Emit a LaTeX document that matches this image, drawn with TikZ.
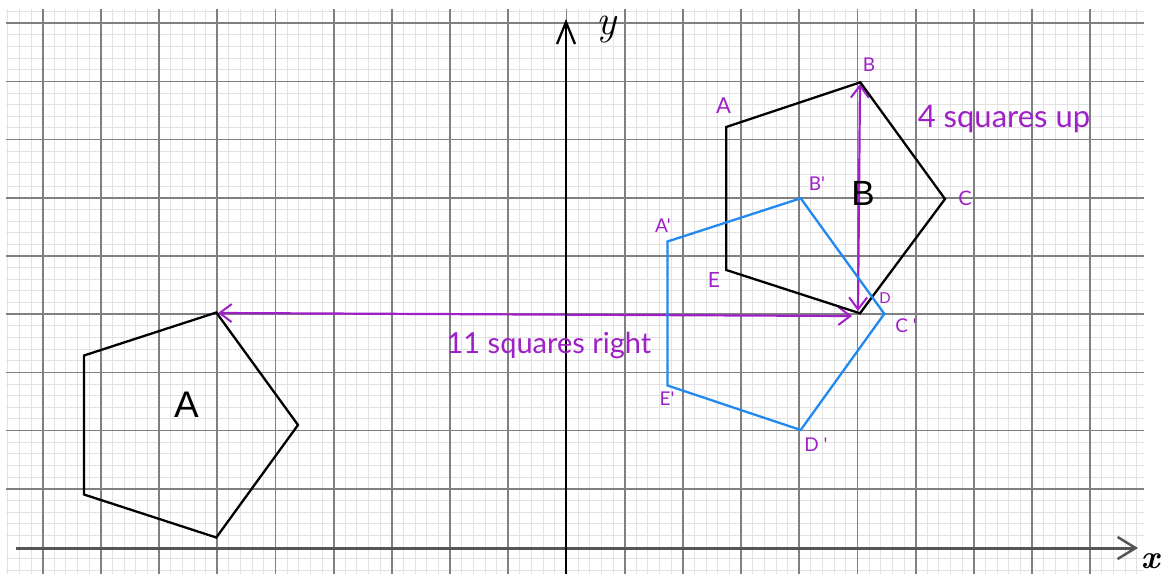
\documentclass[tikz,border=0pt]{standalone}
\usepackage{fontspec}
\setmainfont{Liberation Sans}
\newfontfamily\hand{Lato}
\newfontfamily\lmr{Latin Modern Roman}
\usetikzlibrary{arrows.meta}
\definecolor{minorc}{RGB}{226,226,226}
\definecolor{majorc}{RGB}{128,128,128}
\definecolor{axisc}{RGB}{85,85,85}
\definecolor{purp}{RGB}{160,32,200}
\definecolor{blu}{RGB}{33,137,240}
\tikzset{
  minorline/.style={draw=minorc, line width=1pt},
  majorline/.style={draw=majorc, line width=1.7pt},
  pent/.style={draw=black, line width=2.3pt, line join=miter},
  pentimg/.style={draw=blu, line width=2.3pt, line join=miter},
  moveline/.style={draw=purp, line width=2.2pt, {Straight Barb[length=12pt,width=18pt,line width=2pt]}-{Straight Barb[length=12pt,width=18pt,line width=2pt]}},
  vlab/.style={text=purp, font=\hand, inner sep=0pt, anchor=center},
  biglab/.style={text=black, inner sep=0pt, anchor=base},
}
\begin{document}
\begin{tikzpicture}[x=1pt,y=-1pt]
\useasboundingbox (0,0) rectangle (1163,574);
\fill[white] (0,0) rectangle (1163,574);
% minor grid
\foreach \k in {-48,...,49} {
  \pgfmathtruncatemacro{\m}{mod(abs(\k),5)}
  \ifnum\m=0\else \draw[minorline] ({566.5+11.64*\k},9) -- ++(0,565); \fi
}
\foreach \k in {-2,...,46} {
  \pgfmathtruncatemacro{\m}{mod(abs(\k),5)}
  \ifnum\m=0\else \draw[minorline] (6,{547-11.64*\k}) -- (1144,{547-11.64*\k}); \fi
}
% major grid
\foreach \k in {-45,-40,...,45} {
  \draw[majorline] ({566.5+11.64*\k},9) -- ++(0,565);
}
\foreach \k in {5,10,...,45} {
  \draw[majorline] (6,{547-11.64*\k}) -- (1144,{547-11.64*\k});
}
% purple translation arrows
\coordinate (hL) at (218,313);
\coordinate (hR) at (852,316);
\coordinate (vB) at (860,84);
\coordinate (vD) at (858,311);
\draw[moveline] (hL) -- (hR);
\draw[moveline] (vD) -- (vB);
% axes
\coordinate (xs) at (16,548);
\coordinate (xe) at (1138,548);
\coordinate (ys) at (566,574);
\coordinate (ye) at (566,19);
\draw[draw=axisc, line width=3pt, -{Straight Barb[length=18pt,width=22pt,line width=2.5pt]}] (xs) -- (xe);
\draw[draw=black, line width=2.3pt, -{Straight Barb[length=22pt,width=18pt,line width=2.3pt]}] (ys) -- (ye);
\node[biglab, font=\lmr\bfseries\itshape\fontsize{33}{33}\selectfont] (xlab) at (1150,568) {x};
\node[biglab, font=\lmr\itshape\fontsize{42}{42}\selectfont] (ylab) at (606,34) {y};
% pentagon A
\coordinate (A1) at (216.3,312.5);
\coordinate (A2) at (298,425);
\coordinate (A3) at (216.3,537.5);
\coordinate (A4) at (84,494.5);
\coordinate (A5) at (84,355.5);
\draw[pent] (A1) -- (A2) -- (A3) -- (A4) -- (A5) -- cycle;
% pentagon B
\coordinate (PB) at (860.3,82.3);
\coordinate (PC) at (945,199);
\coordinate (PD) at (860,313.3);
\coordinate (PE) at (726.3,270);
\coordinate (PA) at (726.3,127);
\draw[pent] (PA) -- (PB) -- (PC) -- (PD) -- (PE) -- cycle;
% image pentagon (blue)
\coordinate (QA) at (667.5,241.5);
\coordinate (QB) at (800.7,198.3);
\coordinate (QC) at (884.3,313.8);
\coordinate (QD) at (800.7,430);
\coordinate (QE) at (667.5,385.5);
\draw[pentimg] (QA) -- (QB) -- (QC) -- (QD) -- (QE) -- cycle;
% big shape labels
\node[biglab, font=\fontsize{37}{37}\selectfont] (labA) at (186.5,417) {A};
\node[biglab, font=\fontsize{35}{35}\selectfont] (labB) at (863,205) {B};
% vertex labels
\node[vlab, font=\hand\fontsize{22}{22}\selectfont] (tA) at (723.5,106) {A};
\node[vlab, font=\hand\fontsize{19}{19}\selectfont] (tB) at (869,65) {B};
\node[vlab, font=\hand\fontsize{20}{20}\selectfont] (tC) at (965,198) {C};
\node[vlab, font=\hand\fontsize{15}{15}\selectfont] (tD) at (885,298) {D};
\node[vlab, font=\hand\fontsize{21}{21}\selectfont] (tE) at (714,280) {E};
\node[vlab, font=\hand\fontsize{19}{19}\selectfont] (tA2) at (663,226) {A'};
\node[vlab, font=\hand\fontsize{19}{19}\selectfont] (tB2) at (817,184) {B'};
\node[vlab, font=\hand\fontsize{19}{19}\selectfont] (tC2) at (906,326) {C '};
\node[vlab, font=\hand\fontsize{19}{19}\selectfont] (tD2) at (816,445) {D '};
\node[vlab, font=\hand\fontsize{19}{19}\selectfont] (tE2) at (667,399) {E'};
% translation labels
\node[text=purp, inner sep=0pt, anchor=base, font=\hand\fontsize{31}{31}\selectfont] (up) at (1004,127) {4 squares up};
\node[text=purp, inner sep=0pt, anchor=base, font=\hand\fontsize{29}{29}\selectfont] (right) at (549,353) {11 squares right};
\end{tikzpicture}
\end{document}
